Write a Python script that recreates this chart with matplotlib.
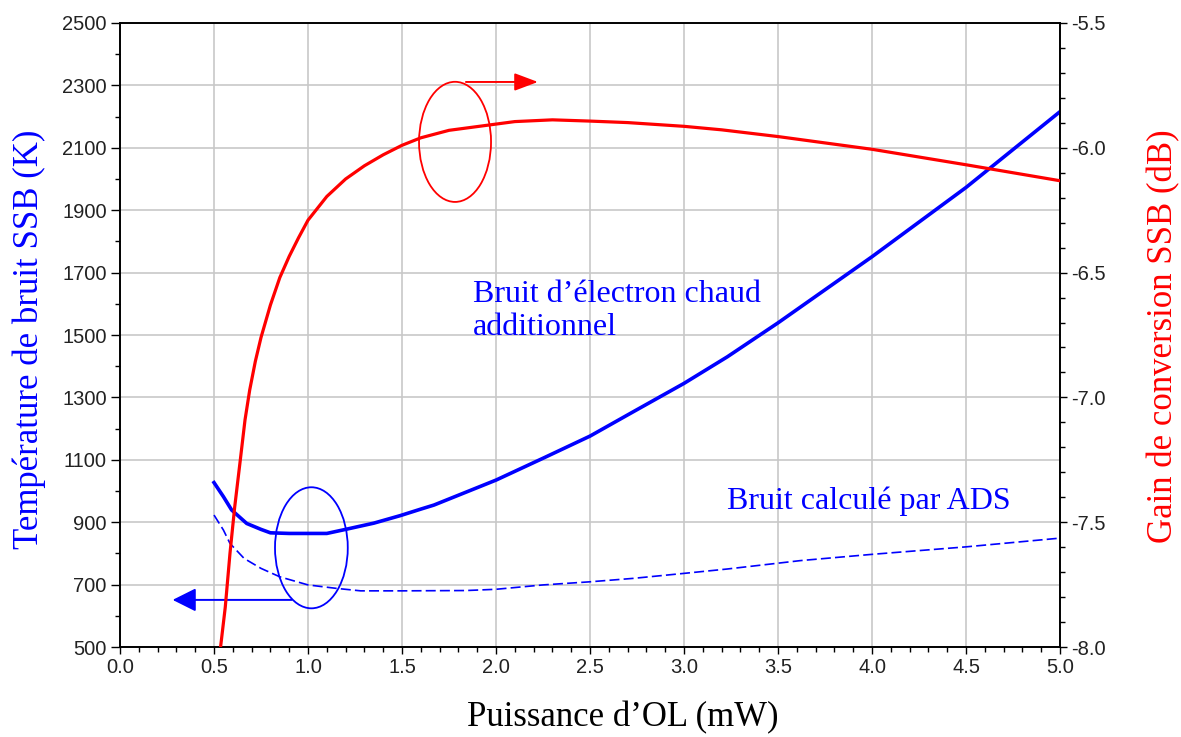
import numpy as np
import matplotlib
matplotlib.use("Agg")
import matplotlib.pyplot as plt
from matplotlib.patches import Ellipse
from matplotlib.ticker import MultipleLocator, FormatStrFormatter

# ── Data ─────────────────────────────────────────────────────────
# Noise temperature, hot electron model (left axis, K)
p_hot = [0.50, 0.55, 0.594, 0.674, 0.75, 0.80, 0.90, 1.00, 1.10, 1.20, 1.35,
         1.49, 1.60, 1.67, 2.00, 2.25, 2.50, 2.73, 3.00, 3.23, 3.50, 4.00,
         4.50, 5.00]
t_hot = [1027, 982, 939, 896, 877, 866, 864, 864, 864, 877, 897,
         921, 942, 955, 1035, 1105, 1176, 1254, 1345, 1430, 1539, 1751,
         1973, 2216]

# Noise temperature computed by ADS (left axis, K)
p_ads = [0.50, 0.55, 0.585, 0.66, 0.75, 0.85, 1.00, 1.15, 1.28, 1.50,
         1.84, 2.00, 2.25, 2.50, 2.73, 3.00, 3.23, 3.62, 4.00, 4.50, 5.00]
t_ads = [923, 875, 832, 784, 752, 725, 699, 688, 680, 680,
         681, 685, 699, 709, 720, 736, 750, 777, 797, 821, 849]

# SSB conversion gain (right axis, dB)
p_gain = [0.535, 0.56, 0.585, 0.61, 0.64, 0.665, 0.69, 0.72, 0.75, 0.80,
          0.85, 0.90, 0.95, 1.00, 1.10, 1.20, 1.30, 1.40, 1.50, 1.60,
          1.75, 2.00, 2.10, 2.30, 2.50, 2.70, 3.00, 3.20, 3.50, 4.00,
          4.50, 5.00]
g_ssb = [-8.00, -7.84, -7.625, -7.44, -7.25, -7.09, -6.97, -6.855, -6.76, -6.63,
         -6.52, -6.435, -6.36, -6.29, -6.195, -6.125, -6.072, -6.028, -5.99, -5.96,
         -5.93, -5.905, -5.895, -5.888, -5.893, -5.899, -5.914, -5.928, -5.955, -6.006,
         -6.068, -6.132]

plt.rcParams["axes.unicode_minus"] = False
BLUE = "#0000ff"
RED = "#ff0000"
serif = "Liberation Serif"
tick_font = "Liberation Sans"

fig = plt.figure(figsize=(11.81, 7.37), dpi=100)
ax = fig.add_axes([0.1016, 0.1221, 0.796, 0.8467])
ax2 = ax.twinx()

# ── Curves ───────────────────────────────────────────────────────
ax.plot(p_hot, t_hot, color=BLUE, lw=2.6, zorder=3)
ax.plot(p_ads, t_ads, color=BLUE, lw=1.2, dashes=(6, 2.5), zorder=3)
ax2.plot(p_gain, g_ssb, color=RED, lw=2.3, zorder=3)

# ── Axes setup ───────────────────────────────────────────────────
ax.set_xlim(0, 5)
ax.set_ylim(500, 2500)
ax2.set_ylim(-8.0, -5.5)

ax.xaxis.set_major_locator(MultipleLocator(0.5))
ax.xaxis.set_minor_locator(MultipleLocator(0.1))
ax.yaxis.set_minor_locator(MultipleLocator(100))
ax.set_yticks(np.arange(500, 2501, 200))
ax.xaxis.set_major_formatter(FormatStrFormatter("%.1f"))
ax2.yaxis.set_major_locator(MultipleLocator(0.5))
ax2.yaxis.set_minor_locator(MultipleLocator(0.1))
ax2.yaxis.set_major_formatter(FormatStrFormatter("%.1f"))

ax.grid(True, which="major", color="#c8c8c8", lw=1.2)
ax.set_axisbelow(True)

for a in (ax, ax2):
    for s in a.spines.values():
        s.set_color("black")
        s.set_linewidth(1.2)
    a.tick_params(which="major", direction="out", length=5, width=1.0,
                  labelsize=14.5, labelcolor="#222222", pad=3)
    a.tick_params(which="minor", direction="out", length=3.5, width=1.0)
    for lab in a.get_xticklabels() + a.get_yticklabels():
        lab.set_fontfamily(tick_font)
ax.tick_params(axis="y", which="major", length=6.5)

# ── Annotations ──────────────────────────────────────────────────
ax.add_patch(Ellipse((1.782, 2119), 0.383, 385, fill=False, ec=RED, lw=1.3, zorder=4))
ax.add_patch(Ellipse((1.018, 818), 0.387, 388, fill=False, ec=BLUE, lw=1.3, zorder=4))

ax.annotate("", xy=(2.223, 2311), xytext=(1.84, 2311),
            arrowprops=dict(arrowstyle="-|>,head_length=0.72,head_width=0.27",
                            color=RED, lw=1.4, mutation_scale=20,
                            shrinkA=0, shrinkB=0), zorder=4)
ax.annotate("", xy=(0.28, 651), xytext=(0.913, 651),
            arrowprops=dict(arrowstyle="-|>,head_length=0.72,head_width=0.36",
                            color=BLUE, lw=1.4, mutation_scale=20,
                            shrinkA=0, shrinkB=0), zorder=4)

ax.text(1.878, 1606, "Bruit d\u2019électron chaud", color=BLUE,
        fontsize=23, family=serif, va="baseline", ha="left")
ax.text(1.878, 1500, "additionnel", color=BLUE,
        fontsize=23, family=serif, va="baseline", ha="left")
ax.text(3.226, 942, "Bruit calculé par ADS", color=BLUE,
        fontsize=23, family=serif, va="baseline", ha="left")

# ── Axis titles ──────────────────────────────────────────────────
fig.text(0.025, 0.539, "Température de bruit SSB (K)", color=BLUE,
         fontsize=25, family=serif, rotation=90, ha="center", va="center")
fig.text(0.985, 0.544, "Gain de conversion SSB (dB)", color=RED,
         fontsize=25, family=serif, rotation=90, ha="center", va="center")
fig.text(0.5275, 0.026, "Puissance d\u2019OL (mW)", color="black",
         fontsize=25, family=serif, ha="center", va="center")

fig.savefig("out.png", dpi=100)
plt.close(fig)
